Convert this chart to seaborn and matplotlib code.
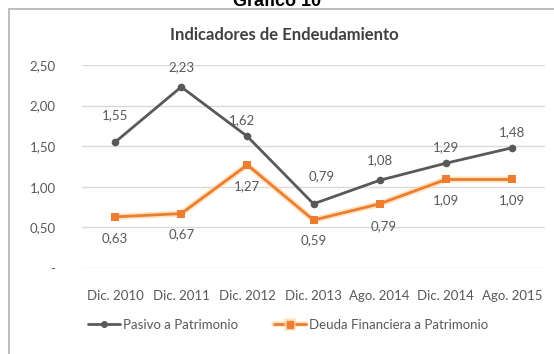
import matplotlib
matplotlib.use("Agg")
import matplotlib.pyplot as plt
from matplotlib.patches import Rectangle
from matplotlib.lines import Line2D
import matplotlib.patheffects as pe
import seaborn as sns
import pandas as pd

periods = ["Dic. 2010", "Dic. 2011", "Dic. 2012", "Dic. 2013", "Ago. 2014", "Dic. 2014", "Ago. 2015"]
pasivo = [1.55, 2.23, 1.62, 0.79, 1.08, 1.29, 1.48]
deuda = [0.63, 0.67, 1.27, 0.59, 0.79, 1.09, 1.09]
series_names = ["Pasivo a Patrimonio", "Deuda Financiera a Patrimonio"]
y_ticks = [0, 0.5, 1.0, 1.5, 2.0, 2.5]
y_tick_labels = ["-", "0,50", "1,00", "1,50", "2,00", "2,50"]

# data-label placement (pixel offsets of each label centre from its point)
pasivo_label_dx = [0, 0, -5, 8, 0, 0, 0]
pasivo_label_dy = [27, 20, 16, 28, 20, 16, 16]
deuda_label_dx = [0, 0, 0, 0, 4, 0, 0]
deuda_label_dy = [-21, -21, -21, -20, -22, -21, -21]

GRAY = "#595959"
ORANGE = "#ED7D31"
GLOW = "#FCD9A8"
TEXT = "#595959"
FS = 9.5

sns.set_theme(style="white")
plt.rcParams["font.family"] = ["Lato", "DejaVu Sans"]

df = pd.DataFrame({
    "pos": list(range(len(periods))) * 2,
    "valor": pasivo + deuda,
    "serie": [series_names[0]] * len(periods) + [series_names[1]] * len(periods),
})

fig = plt.figure(figsize=(5.54, 3.54), dpi=100)
W, H = 554, 354
PX = 72 / 100  # points per pixel

# outer frame (open past the right and bottom edges of the image)
fig.patches.append(Rectangle((9 / W, -0.05), 1.0, 1.05 - 9 / H,
                             transform=fig.transFigure, fill=False,
                             edgecolor="#BDBDBD", linewidth=1.4))
fig.text(0.5, 1 - 1 / H, "Gráfico 10", ha="center", va="center",
         fontsize=13, fontweight="bold", color="black",
         family=["Liberation Sans", "DejaVu Sans"])
fig.text(284 / W, 1 - 35 / H, "Indicadores de Endeudamiento", ha="center", va="center",
         fontsize=12, fontweight="bold", color="#404040")

ax = fig.add_axes([82 / W, 1 - 268 / H, (545 - 82) / W, (268 - 65) / H])

# soft halo under the orange series
sns.lineplot(x=list(range(len(periods))), y=deuda, color=GLOW, linewidth=4.5,
             alpha=0.7, ax=ax, legend=False, zorder=1)
sns.lineplot(data=df, x="pos", y="valor", hue="serie", style="serie",
             palette=[GRAY, ORANGE], markers=["o", "s"], dashes=False,
             linewidth=2, markersize=5.5, markeredgewidth=0, ax=ax, legend=False, zorder=2)

ax.set_xlim(-0.5, len(periods) - 0.5)
ax.set_ylim(0, 2.5)
ax.set_yticks(y_ticks)
ax.set_yticklabels(y_tick_labels)
ax.set_xticks(range(len(periods)))
ax.set_xticklabels(periods)
ax.tick_params(axis="both", length=0, labelsize=FS, colors=TEXT)
ax.tick_params(axis="x", pad=16)
ax.tick_params(axis="y", pad=19)
ax.set_xlabel("")
ax.set_ylabel("")
ax.grid(axis="y", color="#D9D9D9", linewidth=1)
ax.set_axisbelow(True)
for s in ax.spines.values():
    s.set_visible(False)

for i, v in enumerate(pasivo):
    ax.annotate(f"{v:.2f}".replace(".", ","), (i, v),
                xytext=(pasivo_label_dx[i] * PX, pasivo_label_dy[i] * PX), textcoords="offset points",
                ha="center", va="center", fontsize=FS, color=TEXT, annotation_clip=False)
for i, v in enumerate(deuda):
    ax.annotate(f"{v:.2f}".replace(".", ","), (i, v),
                xytext=(deuda_label_dx[i] * PX, deuda_label_dy[i] * PX), textcoords="offset points",
                ha="center", va="center", fontsize=FS, color=TEXT, annotation_clip=False)

handles = [Line2D([0], [0], color=GRAY, marker="o", markersize=4, linewidth=2),
           Line2D([0], [0], color=ORANGE, marker="s", markersize=4.5, linewidth=2,
                  path_effects=[pe.Stroke(linewidth=4, foreground=GLOW, alpha=0.7), pe.Normal()])]
fig.legend(handles, series_names, loc="center", bbox_to_anchor=(0.52, 1 - 325 / H),
           ncol=2, frameon=False, fontsize=FS, labelcolor=TEXT, handlelength=2.4,
           handletextpad=0.2, columnspacing=2.8)

fig.savefig("out.png", dpi=100)
